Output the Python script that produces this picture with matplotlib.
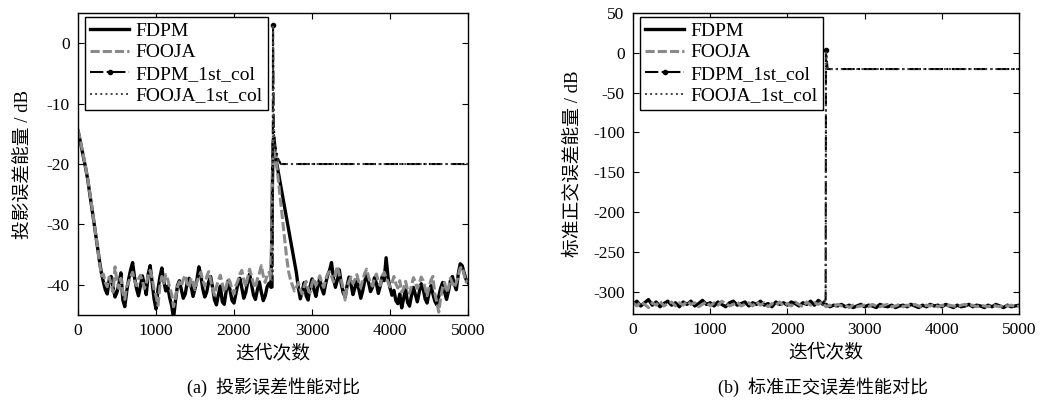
import numpy as np
import matplotlib
matplotlib.use("Agg")
import matplotlib.pyplot as plt

plt.rcParams["font.family"] = ["Liberation Serif", "Noto Sans CJK SC"]
plt.rcParams["axes.unicode_minus"] = False

# ============================================================
# 数据
# ============================================================
# (a) 投影误差，每 25 次迭代一个点
iter_a = np.arange(0, 5001, 25)

fdpm_a = [
    -14.5, -16.0, -17.6, -19.2, -20.8, -22.6, -24.8, -27.0, -29.3, -31.5, -33.8, -36.0, -38.0,
    -39.5, -40.8, -41.5, -39.2, -38.6, -40.5, -42.0, -41.2, -39.8, -38.0,
    -42.5, -43.6, -41.0, -39.0, -37.5, -36.3, -38.8, -40.6, -41.8, -40.2,
    -38.5, -39.9, -41.6, -38.2, -36.8, -39.5, -42.3, -44.0, -40.8, -38.7,
    -37.2, -39.4, -41.0, -40.2, -42.1, -43.4, -45.5, -42.6, -40.1, -39.3,
    -40.8, -42.2, -41.5, -39.6, -38.9, -40.3, -41.9, -40.6, -39.1, -37.0,
    -38.4, -40.7, -42.0, -41.2, -39.5, -38.6, -40.4, -42.5, -43.3, -41.6,
    -40.2, -42.8, -43.2, -41.0, -39.3, -40.9, -42.6, -43.0, -41.4, -39.8,
    -38.9, -40.5, -42.2, -41.3, -39.6, -38.2, -40.0, -41.7, -42.4, -40.8,
    -39.5, -41.2, -42.6, -41.8, -40.3, -39.7, -40.4,
    -16.5,
    -18.3, -20.1, -21.9, -23.7, -25.5, -27.3, -29.0, -30.8, -32.6, -34.4, -36.2, -38.0,
    -40.5, -42.3, -41.0, -39.6, -41.8, -42.5, -40.3, -39.0, -40.8, -41.9,
    -40.2, -38.9, -40.6, -41.5, -39.8, -38.4, -37.6, -36.3, -38.9, -40.4,
    -39.2, -37.5, -39.8, -41.3, -42.0, -40.1, -38.7, -39.9, -41.6, -40.5,
    -39.1, -40.7, -42.2, -41.0, -39.4, -38.3, -39.6, -41.1, -40.4, -38.8,
    -39.7, -41.4, -40.2, -38.6, -39.3, -35.5, -38.8, -40.5, -41.7, -40.9,
    -42.6, -43.1, -41.5, -43.8, -42.2, -40.7, -42.9, -43.5, -41.8, -40.4,
    -41.6, -42.8, -41.2, -39.8, -40.6, -42.3, -43.0, -41.4, -40.1, -41.5,
    -42.7, -43.3, -41.9, -40.5, -39.6, -41.2, -42.4, -41.0, -39.3, -38.6,
    -39.9, -40.8, -38.2, -36.5, -36.8, -38.0, -39.1, -39.6,
]

fooja_a = [
    -14.3, -15.8, -17.4, -19.0, -20.7, -22.5, -24.6, -26.8, -29.1, -31.4, -33.7, -36.2, -38.5,
    -38.2, -39.6, -40.3, -38.7, -39.9, -41.2, -37.0, -39.4, -40.6, -38.9,
    -41.3, -42.4, -40.2, -39.5, -38.6, -37.9, -39.3, -40.1, -39.0, -38.4,
    -39.2, -40.6, -39.8, -38.5, -37.6, -38.9, -40.7, -41.8, -43.4, -40.2,
    -38.6, -39.7, -38.3, -39.1, -40.4, -41.5, -43.6, -42.1, -40.3, -39.5,
    -40.2, -39.1, -38.4, -39.7, -40.5, -38.9, -39.6, -40.8, -39.4, -38.7,
    -37.9, -39.3, -40.2, -38.6, -37.8, -39.1, -40.6, -41.7, -40.3, -39.2,
    -38.4, -39.8, -41.2, -40.4, -38.9, -39.5, -40.8, -41.5, -40.1, -39.3,
    -38.2, -37.6, -39.1, -40.3, -38.8, -37.4, -38.6, -39.8, -40.5, -39.0,
    -38.1, -36.8, -38.5, -39.6, -38.3, -37.9, -39.2,
    -16.0,
    -18.0, -20.5, -23.5, -26.5, -29.5, -32.5, -35.5, -37.8, -39.2, -40.1, -41.0, -40.4,
    -39.6, -40.8, -41.5, -40.2, -39.4, -40.7, -41.3, -39.8, -38.9, -40.1,
    -39.3, -38.5, -39.7, -40.4, -39.1, -38.2, -37.8, -38.6, -39.5, -38.1,
    -36.9, -38.4, -39.2, -40.6, -42.5, -40.3, -39.4, -38.7, -39.8, -39.1,
    -38.3, -39.5, -40.4, -39.2, -38.1, -37.4, -38.7, -39.6, -40.2, -38.9,
    -38.2, -39.4, -40.1, -38.5, -37.9, -38.8, -39.5, -40.3, -39.7, -38.6,
    -39.8, -40.5, -39.3, -41.2, -40.6, -39.4, -40.8, -41.4, -40.2, -38.8,
    -39.5, -40.6, -39.8, -38.7, -39.3, -40.5, -41.8, -40.4, -39.2, -38.6,
    -41.5, -42.8, -44.5, -42.1, -40.3, -39.6, -41.2, -40.5, -38.9, -39.7,
    -40.4, -39.6, -38.5, -37.2, -37.0, -38.3, -39.5, -39.2,
]

# 第一列误差（2500 次处突变）
iter_col_a = [2475, 2495, 2500, 2510, 2530, 2560, 2600, 3000, 3500, 4000, 4500, 5000]
fdpm_col_a = [-40.4, -40.4, 3.0, -14.0, -17.0, -19.0, -20.0, -20.0, -20.0, -20.0, -20.0, -20.0]
fooja_col_a = [-39.2, -39.2, 3.0, -14.5, -17.5, -19.2, -20.0, -20.0, -20.0, -20.0, -20.0, -20.0]

# (b) 标准正交误差，每 50 次迭代一个点
iter_b = np.arange(0, 5001, 50)

fdpm_b = [
    -316, -312, -318, -314, -310, -317, -313, -319, -315, -312,
    -317, -314, -319, -313, -316, -312, -318, -315, -311, -316,
    -314, -318, -313, -316, -319, -314, -312, -317, -315, -313,
    -318, -314, -316, -312, -317, -315, -319, -313, -316, -314,
    -317, -313, -315, -318, -314, -316, -312, -317, -311, -315,
    -316, -319, -317, -318, -316, -319, -317, -320, -318, -316,
    -319, -317, -318, -320, -316, -318, -319, -317, -320, -318,
    -317, -319, -316, -318, -320, -317, -319, -316, -318, -317,
    -319, -316, -318, -320, -317, -319, -318, -316, -319, -317,
    -318, -320, -317, -319, -316, -318, -320, -317, -319, -318,
    -317,
]

fooja_b = [
    -314, -318, -313, -316, -320, -314, -317, -312, -318, -315,
    -313, -318, -314, -317, -312, -316, -314, -319, -316, -313,
    -318, -314, -317, -312, -315, -318, -316, -313, -318, -316,
    -314, -318, -313, -317, -314, -319, -315, -317, -313, -318,
    -315, -318, -313, -316, -319, -313, -317, -314, -316, -313,
    -319, -317, -319, -316, -318, -317, -320, -317, -319, -318,
    -317, -319, -316, -318, -319, -317, -316, -319, -318, -316,
    -319, -317, -318, -316, -318, -319, -317, -318, -316, -319,
    -317, -319, -317, -318, -319, -317, -316, -318, -317, -319,
    -317, -318, -319, -317, -318, -319, -317, -318, -317, -319,
    -318,
]

iter_col_b = [2450, 2495, 2500, 2520, 2560, 3000, 3500, 4000, 4500, 5000]
fdpm_col_b = [-315, -310, 3.0, -20.5, -20.5, -20.5, -20.5, -20.5, -20.5, -20.5]
fooja_col_b = [-318, -310, 3.0, -20.5, -20.5, -20.5, -20.5, -20.5, -20.5, -20.5]

LABELS = ["FDPM", "FOOJA", "FDPM_1st_col", "FOOJA_1st_col"]


def draw_panel(ax, x, fdpm, fooja, xc, fdpm_col, fooja_col):
    ax.plot(x, fdpm, color="black", linewidth=2.4, label=LABELS[0])
    ax.plot(x, fooja, color="#8a8a8a", linewidth=2.2, linestyle=(0, (3, 1)), label=LABELS[1])
    ax.plot(xc, fdpm_col, color="black", linewidth=1.5, linestyle="-.",
            marker=".", markersize=6, markevery=[2], label=LABELS[2])
    ax.plot(xc, fooja_col, color="#444444", linewidth=1.4, linestyle=":", label=LABELS[3])
    ax.set_xlim(0, 5000)
    ax.set_xticks([0, 1000, 2000, 3000, 4000, 5000])
    ax.tick_params(direction="in", top=True, right=True, labelsize=12.5, length=4, pad=6)
    for sp in ax.spines.values():
        sp.set_linewidth(1.0)
    ax.set_xlabel("迭代次数", fontsize=13.5, labelpad=4)
    leg = ax.legend(loc="upper left", bbox_to_anchor=(0.017, 0.988), borderaxespad=0,
                    fontsize=14, handlelength=2.0, handletextpad=0.3, labelspacing=0.2,
                    borderpad=0.3, fancybox=False, edgecolor="black", framealpha=1)
    leg.get_frame().set_linewidth(1.0)


fig = plt.figure(figsize=(10.47, 4.03), dpi=100)
ax1 = fig.add_axes([0.0745, 0.218, 0.3725, 0.750])
ax2 = fig.add_axes([0.6046, 0.221, 0.3687, 0.747])

draw_panel(ax1, iter_a, fdpm_a, fooja_a, iter_col_a, fdpm_col_a, fooja_col_a)
ax1.set_ylim(-45, 5)
ax1.set_yticks([0, -10, -20, -30, -40])
ax1.set_ylabel("投影误差能量 / dB", fontsize=13.5, labelpad=10)

draw_panel(ax2, iter_b, fdpm_b, fooja_b, iter_col_b, fdpm_col_b, fooja_col_b)
ax2.set_ylim(-328, 50)
ax2.set_yticks([50, 0, -50, -100, -150, -200, -250, -300])
ax2.set_ylabel("标准正交误差能量 / dB", fontsize=13.5, labelpad=8)

fig.text(0.261, 0.04, "(a)  投影误差性能对比", ha="center", va="center", fontsize=13)
fig.text(0.786, 0.04, "(b)  标准正交误差性能对比", ha="center", va="center", fontsize=13)

fig.savefig("out.png", dpi=100)
